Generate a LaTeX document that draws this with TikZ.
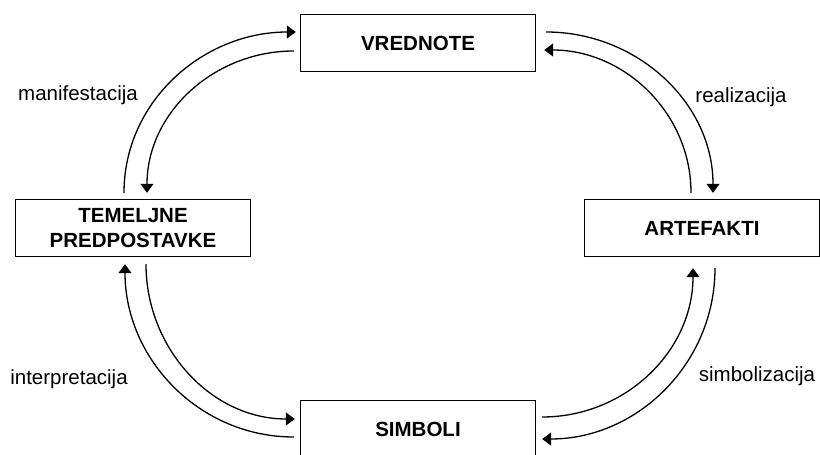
\documentclass[tikz,border=0pt]{standalone}
\usepackage{fontspec}
\setmainfont{Liberation Sans}
\usetikzlibrary{arrows.meta}
\tikzset{
  box/.style={draw,line width=1.4pt,minimum width=235pt,minimum height=57pt,
    align=center,font=\fontsize{20.5}{24.5}\selectfont\bfseries},
  flow/.style={line width=1.3pt,-{Triangle[length=9pt,width=13pt]}},
  lbl/.style={font=\fontsize{20.5}{24.5}\selectfont}
}
\begin{document}
\begin{tikzpicture}[x=1pt,y=1pt]
    \useasboundingbox (0,0) rectangle (820,455);
    \node[box] (vred) at (418,412) {VREDNOTE};
    \node[box] (art) at (702,227) {ARTEFAKTI};
    \node[box] (tem) at (133,227) {TEMELJNE\\PREDPOSTAVKE};
    \node[box] (simb) at (418,26) {SIMBOLI};
    \node[lbl] (lblman) at (78,360) {manifestacija};
    \node[lbl] (lblreal) at (741,358) {realizacija};
    \node[lbl] (lblint) at (69,76) {interpretacija};
    \node[lbl] (lblsimb) at (757,79) {simbolizacija};
    % top left
    \draw[flow] ([xshift=-9pt,yshift=6pt]tem.north) to[out=90,in=180] ([xshift=-4pt,yshift=11pt]vred.west);
    \draw[flow] ([xshift=-6pt,yshift=-8pt]vred.west) to[out=180,in=90] ([xshift=14pt,yshift=6pt]tem.north);
    % top right
    \draw[flow] ([xshift=10pt,yshift=11pt]vred.east) to[out=0,in=90] ([xshift=11pt,yshift=6pt]art.north);
    \draw[flow] ([xshift=-11pt,yshift=6pt]art.north) to[out=90,in=0] ([xshift=8pt,yshift=-7pt]vred.east);
    % bottom left
    \draw[flow] ([xshift=-6pt,yshift=-8pt]simb.west) to[out=180,in=-90] ([xshift=-8pt,yshift=-7pt]tem.south);
    \draw[flow] ([xshift=13pt,yshift=-7pt]tem.south) to[out=-90,in=180] ([xshift=-5pt,yshift=10pt]simb.west);
    % bottom right
    \draw[flow] ([xshift=6pt,yshift=12pt]simb.east) to[out=0,in=-90] ([xshift=-9pt,yshift=-11pt]art.south);
    \draw[flow] ([xshift=13pt,yshift=-11pt]art.south) to[out=-90,in=0] ([xshift=6pt,yshift=-10pt]simb.east);
\end{tikzpicture}
\end{document}
